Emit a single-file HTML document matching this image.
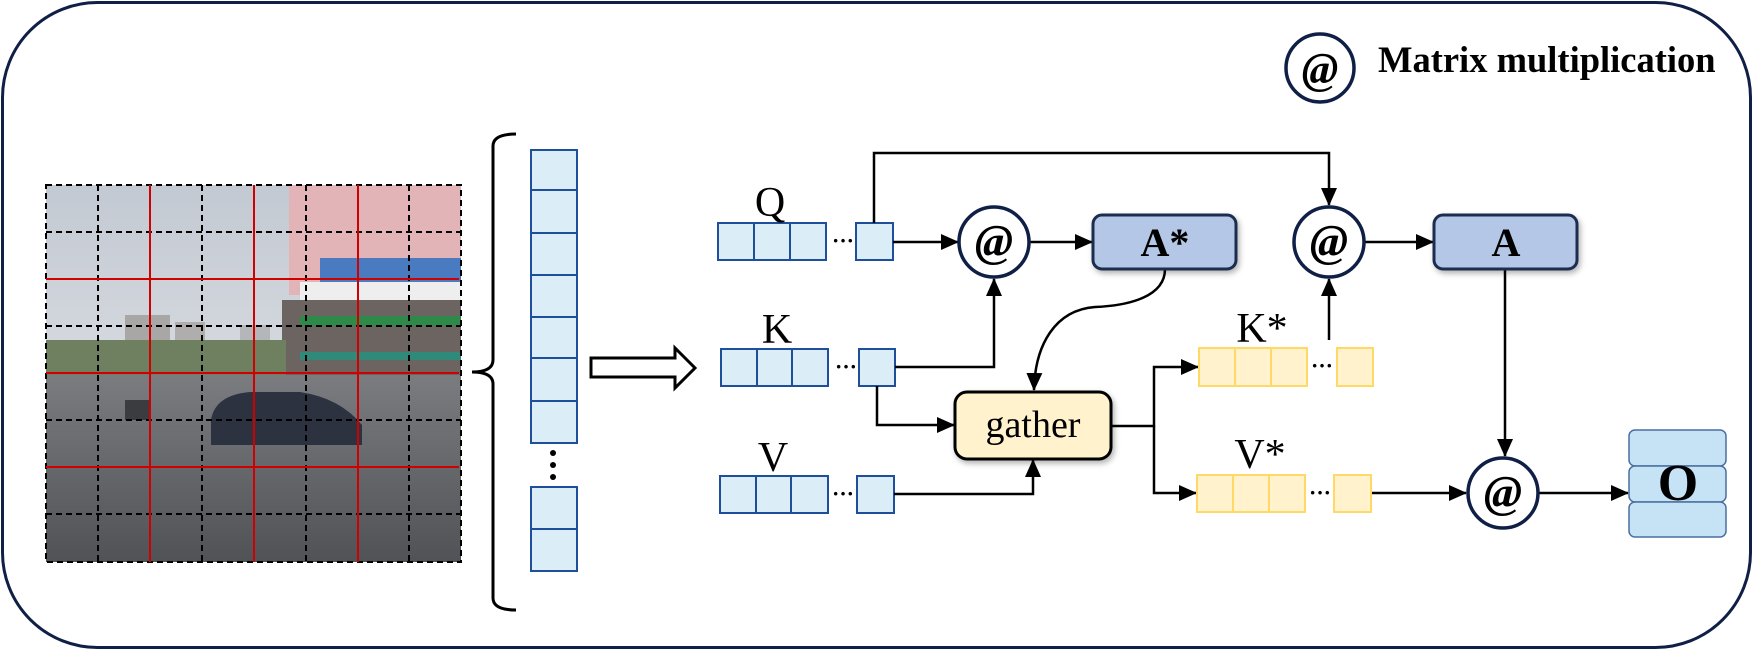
<!DOCTYPE html>
<html><head><meta charset="utf-8"><style>
html,body{margin:0;padding:0;background:#fff}
svg{display:block}
text{font-family:"Liberation Serif",serif}
</style></head><body>
<svg width="1755" height="652" viewBox="0 0 1755 652" xmlns="http://www.w3.org/2000/svg">
<defs>
<marker id="ah" markerWidth="18" markerHeight="16" refX="17" refY="8" orient="auto" markerUnits="userSpaceOnUse">
<path d="M0,0 L18,8 L0,16 z" fill="#000"/></marker>
<linearGradient id="sky" x1="0" y1="0" x2="0" y2="1"><stop offset="0" stop-color="#c3c9d2"/><stop offset="1" stop-color="#e9ebee"/></linearGradient>
<linearGradient id="road" x1="0" y1="0" x2="0" y2="1"><stop offset="0" stop-color="#7a7c80"/><stop offset="1" stop-color="#505256"/></linearGradient>
<filter id="sh" x="-10%" y="-10%" width="130%" height="140%"><feDropShadow dx="2" dy="3" stdDeviation="3" flood-opacity="0.3"/></filter>
</defs>
<rect x="2.5" y="2.5" width="1748" height="645" rx="95" ry="95" fill="#fff" stroke="#0f1f45" stroke-width="3"/>

<!-- photo -->
<g>
<rect x="46" y="185" width="415" height="377" fill="url(#sky)"/>
<rect x="289" y="185" width="172" height="110" fill="#e2b4b8"/>
<rect x="320" y="258" width="141" height="24" fill="#4a7ac0"/>
<rect x="300" y="282" width="161" height="18" fill="#eeeeee"/>
<rect x="282" y="300" width="179" height="75" fill="#6b6460"/>
<rect x="300" y="316" width="161" height="10" fill="#2f8a4a"/>
<rect x="300" y="352" width="161" height="8" fill="#2f8a7a"/>
<rect x="125" y="315" width="45" height="50" fill="#a9a7a5"/>
<rect x="175" y="322" width="30" height="45" fill="#b0aeac"/>
<rect x="240" y="325" width="30" height="40" fill="#b5b6ba"/>
<rect x="46" y="340" width="240" height="35" fill="#6f8060"/>
<rect x="46" y="375" width="415" height="187" fill="url(#road)"/>
<path d="M211,420 Q215,395 250,392 L300,392 Q340,398 362,425 L362,445 L211,445 z" fill="#2c3240"/>
<rect x="125" y="400" width="25" height="20" fill="#3a3c40"/>
<g stroke="#000" stroke-width="2" stroke-dasharray="6,4" fill="none">
<rect x="46" y="185" width="415" height="377"/>
<path d="M98,185V562M202,185V562M306,185V562M409,185V562M46,232H461M46,326H461M46,420H461M46,514H461"/>
</g>
<g stroke="#d00000" stroke-width="2">
<path d="M150,185V562M254,185V562M358,185V562M46,279H459M46,373H459M46,467H459"/>
</g>
</g>

<!-- brace -->
<path d="M516,134 Q493,134 493,146 L493,360 Q493,372 472,372 Q493,372 493,384 L493,598 Q493,610 516,610" fill="none" stroke="#000" stroke-width="3"/>

<!-- token column -->
<g fill="#dbeef8" stroke="#1f4e9a" stroke-width="2">
<rect x="531" y="150" width="46" height="40"/><rect x="531" y="190" width="46" height="43"/>
<rect x="531" y="233" width="46" height="42"/><rect x="531" y="275" width="46" height="42"/>
<rect x="531" y="317" width="46" height="41"/><rect x="531" y="358" width="46" height="43"/>
<rect x="531" y="401" width="46" height="42"/>
<rect x="531" y="487" width="46" height="42"/><rect x="531" y="529" width="46" height="42"/>
</g>
<circle cx="553" cy="453" r="3" fill="#000"/><circle cx="553" cy="465" r="3" fill="#000"/><circle cx="553" cy="477" r="3" fill="#000"/>

<!-- hollow arrow -->
<polygon points="591,358 675,358 675,348 695,368 675,388 675,377 591,377" fill="#fff" stroke="#000" stroke-width="3"/>

<!-- Q K V rows -->
<g fill="#dbeef8" stroke="#1f4e9a" stroke-width="2">
<rect x="718" y="223" width="36" height="37"/><rect x="754" y="223" width="36" height="37"/><rect x="790" y="223" width="36" height="37"/><rect x="856" y="223" width="37" height="37"/>
<rect x="721" y="349" width="36" height="37"/><rect x="757" y="349" width="35" height="37"/><rect x="792" y="349" width="36" height="37"/><rect x="859" y="349" width="36" height="37"/>
<rect x="720" y="476" width="36" height="37"/><rect x="756" y="476" width="35" height="37"/><rect x="791" y="476" width="37" height="37"/><rect x="857" y="476" width="37" height="37"/>
</g>
<g font-size="22" font-weight="bold">
<text x="832" y="248">···</text><text x="835" y="374">···</text><text x="832" y="501">···</text>
</g>
<g font-size="42" text-anchor="middle">
<text x="770" y="216">Q</text><text x="777" y="343">K</text><text x="773" y="471">V</text>
</g>

<!-- connectors -->
<g fill="none" stroke="#000" stroke-width="2.5">
<path d="M893,242H958" marker-end="url(#ah)"/>
<path d="M874,223V153H1329V205" marker-end="url(#ah)"/>
<path d="M895,367H994V279" marker-end="url(#ah)"/>
<path d="M877,386V425H954" marker-end="url(#ah)"/>
<path d="M894,494H1033V460" marker-end="url(#ah)"/>
<path d="M1030,242H1092" marker-end="url(#ah)"/>
<path d="M1165,269 C1165,300 1120,306 1095,307 C1055,310 1035,345 1034,390" marker-end="url(#ah)"/>
<path d="M1111,426H1154V367H1198" marker-end="url(#ah)"/>
<path d="M1154,426V493H1196" marker-end="url(#ah)"/>
<path d="M1329,340V279" marker-end="url(#ah)"/>
<path d="M1365,242H1433" marker-end="url(#ah)"/>
<path d="M1505,269V456" marker-end="url(#ah)"/>
<path d="M1372,493H1466" marker-end="url(#ah)"/>
<path d="M1539,493H1628" marker-end="url(#ah)"/>
</g>

<!-- circles -->
<g fill="#fff" stroke="#0f1f45" stroke-width="3.5">
<circle cx="994" cy="242" r="35"/><circle cx="1329" cy="242" r="35"/><circle cx="1503" cy="493" r="35"/>
<circle cx="1320" cy="68" r="34"/>
</g>
<g font-size="46" font-weight="bold" font-style="italic" text-anchor="middle">
<text x="994" y="256">@</text><text x="1329" y="256">@</text><text x="1503" y="507">@</text>
<text x="1320" y="83" font-size="44">@</text>
</g>
<text x="1378" y="72" font-size="36.5" font-weight="bold">Matrix multiplication</text>

<!-- A* and A -->
<g fill="#b4c7e7" stroke="#1f2d50" stroke-width="3" filter="url(#sh)">
<rect x="1093" y="215" width="143" height="54" rx="9"/>
<rect x="1434" y="215" width="143" height="54" rx="9"/>
</g>
<g font-size="40" font-weight="bold" text-anchor="middle">
<text x="1165" y="256">A*</text><text x="1506" y="256">A</text>
</g>

<!-- gather -->
<rect x="955" y="392" width="156" height="67" rx="12" fill="#fff2cc" stroke="#000" stroke-width="3" filter="url(#sh)"/>
<text x="1033" y="437" font-size="38" text-anchor="middle">gather</text>

<!-- K* V* -->
<g fill="#fff2cc" stroke="#ffd966" stroke-width="2">
<rect x="1199" y="348" width="36" height="38"/><rect x="1235" y="348" width="36" height="38"/><rect x="1271" y="348" width="36" height="38"/><rect x="1337" y="348" width="36" height="38"/>
<rect x="1197" y="475" width="36" height="37"/><rect x="1233" y="475" width="36" height="37"/><rect x="1269" y="475" width="36" height="37"/><rect x="1334" y="475" width="37" height="37"/>
</g>
<g font-size="22" font-weight="bold">
<text x="1311" y="373">···</text><text x="1309" y="500">···</text>
</g>
<g font-size="42" text-anchor="middle">
<text x="1262" y="342">K*</text><text x="1260" y="468">V*</text>
</g>

<!-- O stack -->
<g fill="#c5e3f5" stroke="#4a6fa0" stroke-width="1.5">
<rect x="1629" y="430" width="97" height="36" rx="6"/>
<rect x="1629" y="466" width="97" height="36" rx="6"/>
<rect x="1629" y="502" width="97" height="35" rx="6"/>
</g>
<text x="1678" y="500" font-size="52" font-weight="bold" text-anchor="middle">O</text>
</svg>
</body></html>
